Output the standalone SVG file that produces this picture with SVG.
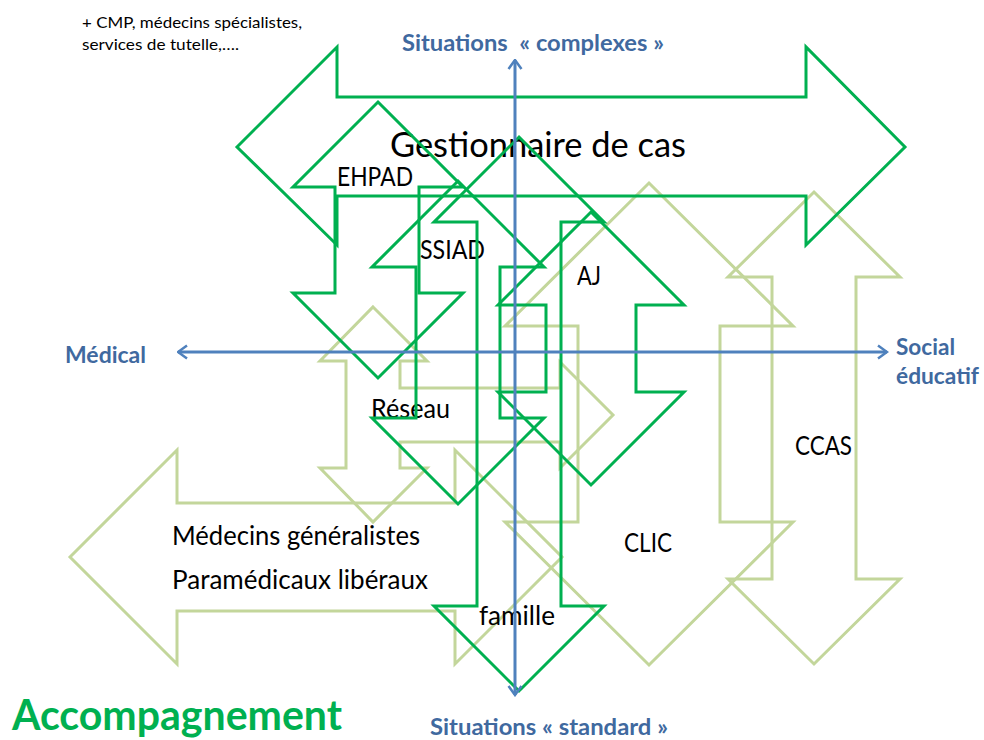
<svg xmlns="http://www.w3.org/2000/svg" width="984" height="740" viewBox="0 0 984 740">
<defs>
<style>
.dk{fill:none;stroke:#00B050;stroke-width:3;stroke-linejoin:miter}
.lt{fill:none;stroke:#C3D69B;stroke-width:3;stroke-linejoin:miter}
.ax{fill:none;stroke:#4F81BD;stroke-width:3}
.t{font-family:Lato,"Liberation Sans",sans-serif;font-size:26.5px;fill:#000}
.ab{font-family:Lato,"Liberation Sans",sans-serif;font-size:23.5px;font-weight:bold;fill:#40699F}
</style>
<marker id="ah" viewBox="0 0 12 16" refX="10.5" refY="8" markerWidth="12" markerHeight="16" markerUnits="userSpaceOnUse" orient="auto-start-reverse">
<path d="M1.5,1.5 L10.5,8 L1.5,14.5" fill="none" stroke="#4F81BD" stroke-width="2.5"/>
</marker>
</defs>
<rect width="984" height="740" fill="#fff"/>

<g id="medecins">
<polygon class="lt" points="70,557 177,450 177,503 455,503 455,450 562,557 455,664 455,611 177,611 177,664"/>
<text class="t" x="172" y="545" textLength="248" lengthAdjust="spacingAndGlyphs">Médecins généralistes</text>
<text class="t" x="172" y="589" textLength="256" lengthAdjust="spacingAndGlyphs">Paramédicaux libéraux</text>
</g>
<g id="reseau">
<polygon class="lt" points="373,307 427,361 400,361 400,388 560,388 560,362 613,415 560,468 560,442 400,442 400,468 427,468 373,522 320,468 346,468 346,361 320,361"/>
<text class="t" x="371" y="418" textLength="79" lengthAdjust="spacingAndGlyphs">Réseau</text>
</g>
<g id="clic">
<polygon class="lt" points="649,183 793,326 720,326 720,522 793,522 649,665 505,522 578,522 578,326 505,326"/>
<text class="t" x="624" y="552" textLength="48" lengthAdjust="spacingAndGlyphs">CLIC</text>
</g>
<g id="ccas">
<polygon class="lt" points="814,192 900,277 856,277 856,579 900,579 814,664 728,579 772,579 772,277 728,277"/>
<text class="t" x="795" y="455" textLength="57" lengthAdjust="spacingAndGlyphs">CCAS</text>
</g>

<g id="gestionnaire">
<polygon class="dk" points="237,147 337,47 337,97 806,97 806,47 905,147 806,245 806,196 337,196 337,245"/>
<text class="t" x="390" y="157" style="font-size:34px" textLength="296" lengthAdjust="spacingAndGlyphs">Gestionnaire de cas</text>
</g>
<g id="ehpad">
<polygon class="dk" points="378,102 463,187 419,187 419,293 463,293 378,378 293,293 335,293 335,187 293,187"/>
<text class="t" x="337" y="186" textLength="76" lengthAdjust="spacingAndGlyphs">EHPAD</text>
</g>
<g id="ssiad">
<polygon class="dk" points="458,181 544,267 500,267 500,418 544,418 458,504 372,418 416,418 416,267 372,267"/>
<text class="t" x="420" y="259" textLength="65" lengthAdjust="spacingAndGlyphs">SSIAD</text>
</g>
<g id="famille">
<polygon class="dk" points="519,137 604,222 561,222 561,606 604,606 519,691 434,606 477,606 477,222 434,222"/>
<text class="t" x="479" y="625" textLength="76" lengthAdjust="spacingAndGlyphs">famille</text>
</g>
<g id="aj">
<polygon class="dk" points="591,212 684,305 636,305 636,392 684,392 591,485 498,392 546,392 546,305 498,305"/>
<text class="t" x="577" y="285" textLength="24" lengthAdjust="spacingAndGlyphs">AJ</text>
</g>

<g id="axes">
<line class="ax" x1="515" y1="60" x2="515" y2="695" marker-start="url(#ah)" marker-end="url(#ah)"/>
<line class="ax" x1="178" y1="352" x2="887" y2="352" marker-start="url(#ah)" marker-end="url(#ah)"/>
</g>

<g id="labels">
<text class="ab" x="402" y="51" textLength="262" lengthAdjust="spacingAndGlyphs" xml:space="preserve">Situations  « complexes »</text>
<text class="ab" x="430" y="735" textLength="238" lengthAdjust="spacingAndGlyphs">Situations « standard »</text>
<text class="ab" x="65" y="363" textLength="81" lengthAdjust="spacingAndGlyphs">Médical</text>
<text class="ab" x="896" y="355" textLength="59" lengthAdjust="spacingAndGlyphs">Social</text>
<text class="ab" x="896" y="384" textLength="83" lengthAdjust="spacingAndGlyphs">éducatif</text>
<text x="12" y="730" style="font-family:Lato,'Liberation Sans',sans-serif;font-size:42px;font-weight:bold;fill:#00B050" textLength="330" lengthAdjust="spacingAndGlyphs">Accompagnement</text>
<text x="82" y="28" style="font-family:Lato,'Liberation Sans',sans-serif;font-size:15px;fill:#000" textLength="220" lengthAdjust="spacingAndGlyphs">+ CMP, médecins spécialistes,</text>
<text x="82" y="50" style="font-family:Lato,'Liberation Sans',sans-serif;font-size:15px;fill:#000" textLength="157" lengthAdjust="spacingAndGlyphs">services de tutelle,….</text>
</g>
</svg>
